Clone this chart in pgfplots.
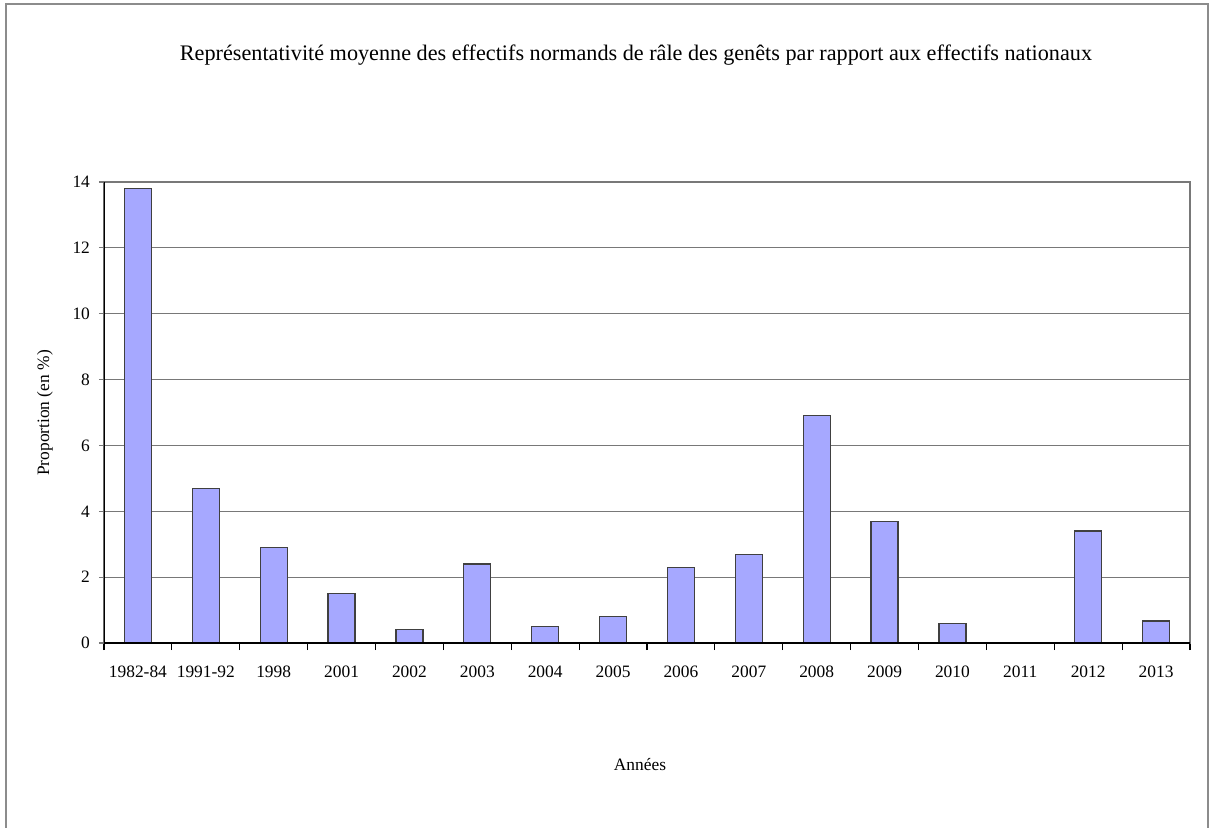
\documentclass[border=0pt]{standalone}
\usepackage{fontspec}
\setmainfont{Liberation Serif}
\usepackage{pgfplots}
\pgfplotsset{compat=1.18}
\definecolor{barfill}{RGB}{166,168,255}
\definecolor{gridgray}{RGB}{120,120,120}
\definecolor{framegray}{RGB}{140,140,140}
\begin{document}
\begin{tikzpicture}
% picture area: 1px of the reference = 0.5pt
\useasboundingbox (-52pt,-92pt) rectangle (553.5pt,321.5pt);
\draw[framegray, line width=1pt] (-49pt,-95pt) -- (-49pt,319.5pt) -- (552pt,319.5pt) -- (552pt,-95pt);
\begin{axis}[
at={(0,0)}, anchor=south west,
width=543pt, height=230.5pt,
scale only axis,
ybar, bar width=13.5pt,
xmin=-0.5, xmax=15.5,
ymin=0, ymax=14,
xtick={0,...,15},
xticklabels={1982-84,1991-92,1998,2001,2002,2003,2004,2005,2006,2007,2008,2009,2010,2011,2012,2013},
minor xtick={-0.5,0.5,...,15.5},
ytick={0,2,...,14},
tick align=outside,
xtick pos=left, ytick pos=left,
major x tick style={draw=none},
minor x tick style={black, line width=0.6pt},
minor tick length=3.5pt,
major y tick style={gridgray, line width=0.6pt},
major tick length=2.5pt,
ymajorgrids=true,
grid style={gridgray, line width=0.6pt},
axis line style={gridgray, line width=0.6pt},
/pgf/number format/assume math mode=true,
tick label style={font=\fontsize{8.7}{10}\selectfont},
xticklabel style={yshift=-5.5pt},
yticklabel style={xshift=-1pt},
]
\addplot[fill=barfill, draw=black!75, line width=0.6pt] coordinates {
(0,13.8) (1,4.7) (2,2.9) (3,1.5) (4,0.4) (5,2.4) (6,0.5) (7,0.8)
(8,2.3) (9,2.7) (10,6.9) (11,3.7) (12,0.6) (13,0) (14,3.4) (15,0.67)
};
\draw[black, line width=0.7pt] (rel axis cs:0,1) -- (rel axis cs:0,0) -- (rel axis cs:1,0);
\end{axis}
\node[font=\fontsize{11.1}{13}\selectfont] at (266pt,294pt) {Représentativité moyenne des effectifs normands de râle des genêts par rapport aux effectifs nationaux};
\node[font=\fontsize{8.7}{10}\selectfont] at (268pt,-61pt) {Années};
\node[font=\fontsize{8.7}{10}\selectfont, rotate=90] at (-29.5pt,115pt) {Proportion (en \%)};
\end{tikzpicture}
\end{document}
